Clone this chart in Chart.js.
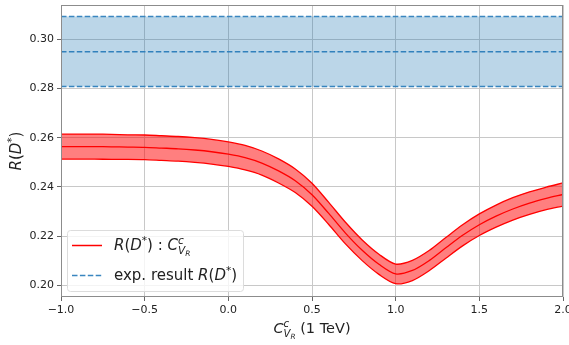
<!DOCTYPE html>
<html>
<head>
<meta charset="utf-8">
<script src="https://cdn.jsdelivr.net/npm/chart.js@4/dist/chart.umd.min.js"></script>
<style>
  html, body { margin: 0; padding: 0; background: #fff; }
  #wrap { width: 569px; height: 345px; }
</style>
</head>
<body>
<div id="wrap"><canvas id="myChart" width="569" height="345"></canvas></div>
<script>
// values
const xValues = [-1.0, -0.9, -0.8, -0.7, -0.6, -0.5, -0.4, -0.3, -0.2, -0.1,
                 0.0, 0.1, 0.2, 0.3, 0.4, 0.5, 0.6, 0.7, 0.8, 0.9,
                 1.0, 1.1, 1.2, 1.3, 1.4, 1.5, 1.6, 1.7, 1.8, 1.9, 2.0];
const centralValues = [0.2564, 0.2564, 0.2564, 0.2563, 0.2562, 0.2561, 0.2558, 0.2555, 0.2550, 0.2543,
                       0.2533, 0.2519, 0.2497, 0.2465, 0.2425, 0.2368, 0.2292, 0.2212, 0.2142, 0.2085,
                       0.2046, 0.2060, 0.2100, 0.2152, 0.2203, 0.2246, 0.2281, 0.2310, 0.2334, 0.2353, 0.2369];
const upperValues = [0.2615, 0.2615, 0.2615, 0.2614, 0.2612, 0.2611, 0.2608, 0.2605, 0.2600, 0.2593,
                     0.2583, 0.2569, 0.2546, 0.2514, 0.2473, 0.2415, 0.2337, 0.2256, 0.2184, 0.2126,
                     0.2086, 0.2101, 0.2141, 0.2194, 0.2246, 0.2290, 0.2326, 0.2356, 0.2380, 0.2399, 0.2416];
const lowerValues = [0.2513, 0.2513, 0.2513, 0.2512, 0.2512, 0.2511, 0.2508, 0.2505, 0.2500, 0.2493,
                     0.2483, 0.2469, 0.2448, 0.2416, 0.2377, 0.2321, 0.2247, 0.2168, 0.2100, 0.2044,
                     0.2006, 0.2019, 0.2059, 0.2110, 0.2160, 0.2202, 0.2236, 0.2265, 0.2288, 0.2307, 0.2322];
const expCentral = 0.2950;
const expUpper = 0.3093;
const expLower = 0.2808;
const xRange = [-1.0, 2.0];
const yRange = [0.1952, 0.3140];
const xTicks = [-1.0, -0.5, 0.0, 0.5, 1.0, 1.5, 2.0];
const yTicks = [0.20, 0.22, 0.24, 0.26, 0.28, 0.30];

const FONT = "'DejaVu Sans', 'Liberation Sans', sans-serif";
const blue = '#3a86c0';
const red = '#ff0000';

function toPoints(ys) {
    return xValues.map((x, i) => ({ x: x, y: ys[i] }));
}
function flat(y) {
    return [{ x: xRange[0], y: y }, { x: xRange[1], y: y }];
}

// draw a row of text pieces (italic, sub/superscripts) one after another
function drawRuns(ctx, runs, x, y, size, align) {
    const measure = () => {
        let w = 0;
        runs.forEach(r => {
            ctx.font = (r.it ? 'italic ' : '') + (size * (r.s || 1)) + 'px ' + FONT;
            if (!r.stay) w += ctx.measureText(r.t).width;
        });
        return w;
    };
    let cx = x;
    if (align === 'center') cx = x - measure() / 2;
    ctx.textBaseline = 'alphabetic';
    ctx.textAlign = 'left';
    runs.forEach(r => {
        ctx.font = (r.it ? 'italic ' : '') + (size * (r.s || 1)) + 'px ' + FONT;
        ctx.fillText(r.t, cx, y + (r.dy || 0) * size);
        if (!r.stay) cx += ctx.measureText(r.t).width;
    });
}

const rdRuns = [
    { t: 'R', it: true }, { t: '(' }, { t: 'D', it: true },
    { t: '*', s: 0.7, dy: -0.42 }, { t: ')' }
];
const cRuns = [
    { t: 'C', it: true }, { t: 'c', it: true, s: 0.7, dy: -0.4, stay: true },
    { t: 'V', it: true, s: 0.7, dy: 0.25 }, { t: 'R', it: true, s: 0.5, dy: 0.38 }
];

const decorPlugin = {
    id: 'decor',
    afterDatasetsDraw(chart) {
        const ctx = chart.ctx;
        const a = chart.chartArea;
        ctx.save();
        ctx.strokeStyle = '#8c8c8c';
        ctx.lineWidth = 1;
        ctx.strokeRect(a.left + 0.5, a.top + 0.5, a.right - a.left - 1, a.bottom - a.top - 1);
        ctx.restore();
    },
    afterDraw(chart) {
        const ctx = chart.ctx;
        const a = chart.chartArea;
        ctx.save();
        ctx.fillStyle = '#222';
        // x axis title
        drawRuns(ctx, cRuns.concat([{ t: ' (1 TeV)' }]), (a.left + a.right) / 2, 333, 14.5, 'center');
        // y axis title
        ctx.translate(21, (a.top + a.bottom) / 2);
        ctx.rotate(-Math.PI / 2);
        drawRuns(ctx, rdRuns, 0, 0, 15, 'center');
        ctx.restore();

        // legend
        ctx.save();
        const bx = 67.5, by = 230.5, bw = 176, bh = 61, rad = 3;
        ctx.beginPath();
        ctx.moveTo(bx + rad, by);
        ctx.arcTo(bx + bw, by, bx + bw, by + bh, rad);
        ctx.arcTo(bx + bw, by + bh, bx, by + bh, rad);
        ctx.arcTo(bx, by + bh, bx, by, rad);
        ctx.arcTo(bx, by, bx + bw, by, rad);
        ctx.closePath();
        ctx.fillStyle = 'rgba(255,255,255,0.8)';
        ctx.fill();
        ctx.strokeStyle = '#dcdcdc';
        ctx.lineWidth = 1;
        ctx.stroke();

        ctx.lineWidth = 1.5;
        ctx.strokeStyle = red;
        ctx.beginPath();
        ctx.moveTo(72, 245.5);
        ctx.lineTo(102, 245.5);
        ctx.stroke();
        ctx.strokeStyle = blue;
        ctx.setLineDash([5.5, 2.4]);
        ctx.beginPath();
        ctx.moveTo(72, 275.5);
        ctx.lineTo(102, 275.5);
        ctx.stroke();
        ctx.setLineDash([]);

        ctx.fillStyle = '#222';
        drawRuns(ctx, rdRuns.concat([{ t: ' : ' }], cRuns), 114, 250, 15, 'left');
        drawRuns(ctx, [{ t: 'exp. result ' }].concat(rdRuns), 114, 280, 15, 'left');
        ctx.restore();
    }
};

const lineStyle = { pointRadius: 0, borderWidth: 1.3, tension: 0.3 };
const dashStyle = { pointRadius: 0, borderWidth: 1.5, borderColor: blue, borderDash: [5.5, 2.4] };

const config = {
    type: 'line',
    data: {
        datasets: [
            Object.assign({ label: 'exp upper', data: flat(expUpper), fill: 1,
                            backgroundColor: 'rgba(31,119,180,0.3)' }, dashStyle),
            Object.assign({ label: 'exp lower', data: flat(expLower), fill: false }, dashStyle),
            Object.assign({ label: 'exp result', data: flat(expCentral), fill: false }, dashStyle),
            Object.assign({ label: 'upper', data: toPoints(upperValues), borderColor: red, fill: 4,
                            backgroundColor: 'rgba(255,0,0,0.5)' }, lineStyle),
            Object.assign({ label: 'lower', data: toPoints(lowerValues), borderColor: red, fill: false }, lineStyle),
            Object.assign({ label: 'central', data: toPoints(centralValues), borderColor: red, fill: false }, lineStyle)
        ]
    },
    options: {
        responsive: false,
        animation: false,
        layout: { padding: { left: 0, top: 5, right: 6, bottom: 0 } },
        plugins: { legend: { display: false }, tooltip: { enabled: false } },
        scales: {
            x: {
                type: 'linear',
                min: xRange[0],
                max: xRange[1],
                afterFit: s => { s.height = 48; s.paddingLeft = 0; s.paddingRight = 0; },
                afterBuildTicks: s => { s.ticks = xTicks.map(v => ({ value: v })); },
                grid: { color: '#c8c8c8', tickColor: '#666', tickLength: 4 },
                border: { display: false },
                ticks: {
                    padding: 3, color: '#222', maxRotation: 0,
                    font: { family: FONT, size: 11 },
                    callback: v => v.toFixed(1).replace('-', '\u2212')
                }
            },
            y: {
                type: 'linear',
                min: yRange[0],
                max: yRange[1],
                afterFit: s => { s.width = 61; s.paddingTop = 0; s.paddingBottom = 0; },
                afterBuildTicks: s => { s.ticks = yTicks.map(v => ({ value: v })); },
                grid: { color: '#c8c8c8', tickColor: '#666', tickLength: 4 },
                border: { display: false },
                ticks: {
                    padding: 3, color: '#222',
                    font: { family: FONT, size: 11 },
                    callback: v => v.toFixed(2)
                }
            }
        }
    },
    plugins: [decorPlugin]
};

new Chart(document.getElementById('myChart').getContext('2d'), config);
</script>
</body>
</html>
